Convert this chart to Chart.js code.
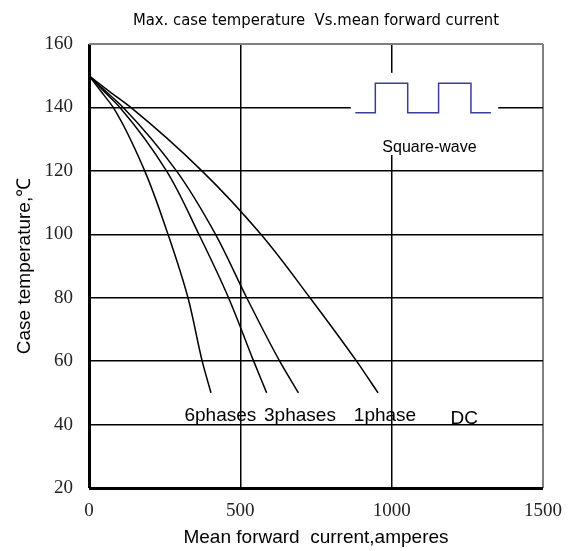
<!DOCTYPE html>
<html>
<head>
<meta charset="utf-8">
<script src="https://cdn.jsdelivr.net/npm/chart.js@4"></script>
<style>
  html, body { margin: 0; padding: 0; background: #fff; }
  #wrap { width: 574px; height: 551px; }
</style>
</head>
<body>
<div id="wrap"><canvas id="chart"></canvas></div>
<script>
const TEMPS      = [150, 145, 140, 120, 100, 80, 60, 50];
const CURR_6PH   = [0, 40, 80, 184, 261, 327, 374, 403];
const CURR_3PH   = [0, 50, 102, 256, 363, 461, 544, 587];
const CURR_1PH   = [0, 56, 113, 289, 418, 521, 630, 692];
const CURR_DC    = [0, 68, 138, 373, 568, 730, 884, 955];

// Square-wave symbol in the inset
const WAVE_X = [880, 946, 946, 1053, 1053, 1155, 1155, 1262, 1262, 1328];
const WAVE_Y = [138.3, 138.3, 147.6, 147.6, 138.3, 138.3, 147.6, 147.6, 138.3, 138.3];

// Curve labels
const LABELS   = ['6phases', '3phases', '1phase', 'DC'];
const LABEL_X  = [434, 697, 978, 1240];
const LABEL_Y  = [41.2, 41.2, 41.2, 40.2];

const X_TICKS = [0, 500, 1000, 1500];
const Y_TICKS = [20, 40, 60, 80, 100, 120, 140, 160];

const toPts = (xs, ys) => xs.map((x, i) => ({ x: x, y: ys[i] }));

// curves are smooth functions of temperature, so interpolate along y
const curve = (label, xs) => ({
    label: label,
    data: toPts(xs, TEMPS),
    borderColor: '#000',
    borderWidth: 1.5,
    pointRadius: 0,
    cubicInterpolationMode: 'monotone',
    fill: false
});

// white box behind the square-wave symbol, cuts the grid lines
const insetBox = {
    id: 'insetBox',
    beforeDatasetsDraw(chart) {
        const { ctx, scales: { x, y } } = chart;
        const x0 = x.getPixelForValue(865), x1 = x.getPixelForValue(1352);
        const y0 = y.getPixelForValue(150.9), y1 = y.getPixelForValue(125);
        ctx.save();
        ctx.fillStyle = '#fff';
        ctx.fillRect(x0, y0, x1 - x0, y1 - y0);
        ctx.fillStyle = '#000';
        ctx.font = '16px "Liberation Sans", Arial, sans-serif';
        ctx.textAlign = 'center';
        ctx.textBaseline = 'middle';
        ctx.fillText('Square-wave', x.getPixelForValue(1125), y.getPixelForValue(127.3));
        ctx.restore();
    }
};

const curveLabels = {
    id: 'curveLabels',
    afterDatasetsDraw(chart) {
        const { ctx, scales: { x, y } } = chart;
        ctx.save();
        ctx.fillStyle = '#000';
        ctx.font = '19px "Liberation Sans", Arial, sans-serif';
        ctx.textAlign = 'center';
        ctx.textBaseline = 'alphabetic';
        LABELS.forEach((t, i) => {
            ctx.fillText(t, x.getPixelForValue(LABEL_X[i]), y.getPixelForValue(LABEL_Y[i]));
        });
        ctx.restore();
    }
};

new Chart(document.getElementById('chart'), {
    type: 'line',
    data: {
        datasets: [
            curve('6phases', CURR_6PH),
            curve('3phases', CURR_3PH),
            curve('1phase', CURR_1PH),
            curve('DC', CURR_DC),
            {
                label: 'Square-wave',
                data: toPts(WAVE_X, WAVE_Y),
                borderColor: '#3b3b9c',
                borderWidth: 1.5,
                pointRadius: 0,
                tension: 0,
                cubicInterpolationMode: 'default',
                fill: false
            }
        ]
    },
    options: {
        indexAxis: 'y',
        responsive: true,
        maintainAspectRatio: false,
        animation: false,
        layout: { padding: { left: 0, right: 31, top: 0, bottom: 0 } },
        plugins: {
            legend: { display: false },
            tooltip: { enabled: false },
            title: {
                display: true,
                fullSize: false,
                text: 'Max. case temperature  Vs.mean forward current',
                color: '#000',
                font: { family: '"Liberation Sans Narrow", "DejaVu Sans Condensed", sans-serif', size: 16.5, weight: 'normal' },
                padding: { top: 11, bottom: 13.2 }
            }
        },
        scales: {
            x: {
                type: 'linear',
                position: 'bottom',
                min: 0, max: 1500,
                afterBuildTicks: s => { s.ticks = X_TICKS.map(v => ({ value: v })); },
                afterFit: s => { s.height = 63; },
                border: { display: false },
                grid: {
                    drawTicks: false,
                    color: c => c.tick.value === 1500 ? '#808080' : '#000',
                    lineWidth: c => c.tick.value === 0 ? 3 : (c.tick.value === 1500 ? 2 : 1.5)
                },
                ticks: {
                    color: '#222',
                    padding: 12,
                    maxRotation: 0,
                    callback: v => String(v),
                    font: { family: '"Liberation Serif", "Times New Roman", serif', size: 19 }
                },
                title: {
                    display: true,
                    text: 'Mean forward  current,amperes',
                    color: '#000',
                    font: { family: '"Liberation Sans", Arial, sans-serif', size: 19 },
                    padding: { top: 0, bottom: 2 }
                }
            },
            y: {
                type: 'linear',
                position: 'left',
                min: 20, max: 160,
                afterBuildTicks: s => { s.ticks = Y_TICKS.map(v => ({ value: v })); },
                afterFit: s => { s.width = 89; },
                border: { display: false },
                grid: {
                    drawTicks: false,
                    color: c => c.tick.value === 160 ? '#808080' : '#000',
                    lineWidth: c => c.tick.value === 20 ? 3 : (c.tick.value === 160 ? 2 : 1.5)
                },
                ticks: {
                    color: '#222',
                    padding: 16,
                    callback: v => String(v),
                    font: { family: '"Liberation Serif", "Times New Roman", serif', size: 19 }
                },
                title: {
                    display: true,
                    text: 'Case temperature,℃',
                    color: '#000',
                    font: { family: '"Liberation Sans", Arial, sans-serif', size: 19 },
                    padding: { top: 13, bottom: 0 }
                }
            }
        }
    },
    plugins: [insetBox, curveLabels]
});
</script>
</body>
</html>
